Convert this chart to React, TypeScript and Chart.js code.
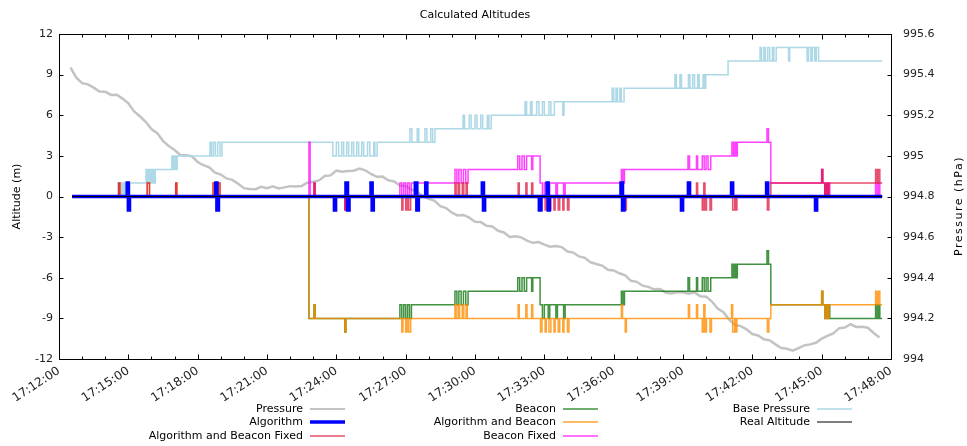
import React, { useEffect, useRef } from 'react';
import { Chart, registerables } from 'chart.js';

Chart.register(...registerables);

type Row = [string, number];

const TITLE = 'Calculated Altitudes';
const LEFT_AXIS_TITLE = 'Altitude (m)';
const RIGHT_AXIS_TITLE = 'Pressure (hPa)';

const TIME_START = '17:12:00';
const TIME_END = '17:48:00';
const TIME_LABEL_STEP_S = 180;
const TIME_MINOR_STEP_S = 60;

const ALTITUDE_MIN = -12;
const ALTITUDE_MAX = 12;
const ALTITUDE_STEP = 3;

const PRESSURE_MIN = 994;
const PRESSURE_MAX = 995.6;
const PRESSURE_STEP = 0.2;

// Barometer readings (hPa), one every 15 s from 17:12:30
const PRESSURE_FIRST_SAMPLE = '17:12:30';
const PRESSURE_INTERVAL_S = 15;
const PRESSURE_HPA = [
  995.434, 995.385, 995.358, 995.352, 995.336, 995.317, 995.316, 995.300, 995.301, 995.282,
  995.259, 995.219, 995.195, 995.168, 995.132, 995.112, 995.074, 995.048, 995.029, 995.004,
  995.003, 994.998, 994.970, 994.954, 994.944, 994.917, 994.908, 994.889, 994.882, 994.863,
  994.841, 994.837, 994.836, 994.848, 994.841, 994.850, 994.840, 994.845, 994.851, 994.849,
  994.852, 994.868, 994.873, 994.879, 994.901, 994.904, 994.928, 994.922, 994.926, 994.927,
  994.938, 994.929, 994.911, 994.897, 994.898, 994.880, 994.874, 994.854, 994.852, 994.833,
  994.824, 994.800, 994.789, 994.779, 994.752, 994.743, 994.720, 994.707, 994.709, 994.696,
  994.676, 994.674, 994.656, 994.652, 994.631, 994.623, 994.601, 994.604, 994.599, 994.583,
  994.572, 994.576, 994.563, 994.553, 994.556, 994.551, 994.529, 994.524, 994.505, 994.498,
  994.476, 994.468, 994.460, 994.439, 994.436, 994.422, 994.412, 994.385, 994.380, 994.361,
  994.355, 994.343, 994.344, 994.327, 994.323, 994.328, 994.329, 994.322, 994.328, 994.309,
  994.307, 994.283, 994.248, 994.230, 994.194, 994.167, 994.162, 994.146, 994.123, 994.116,
  994.097, 994.092, 994.072, 994.054, 994.050, 994.041, 994.054, 994.067, 994.072, 994.080,
  994.100, 994.114, 994.126, 994.151, 994.155, 994.171, 994.158, 994.159, 994.154, 994.128,
  994.106,
];

// Step series: [time the value starts, altitude in m]
const ALGORITHM: Row[] = [
  ['17:12:34', 0],
  ['17:14:57', 1], ['17:15:00', -1], ['17:15:03', 0],
  ['17:18:47', 1], ['17:18:50', -1], ['17:18:54', 0],
  ['17:23:55', -1], ['17:23:58', 0],
  ['17:24:25', 1], ['17:24:29', -1], ['17:24:33', 0],
  ['17:25:30', 1], ['17:25:33', -1], ['17:25:36', 0],
  ['17:27:25', 1], ['17:27:29', -1], ['17:27:33', 0],
  ['17:27:52', 1], ['17:27:55', 0],
  ['17:30:19', 1], ['17:30:22', -1], ['17:30:25', 0],
  ['17:32:47', -1], ['17:32:51', 0],
  ['17:33:07', 1], ['17:33:10', -1], ['17:33:13', 0],
  ['17:36:19', 1], ['17:36:23', -1], ['17:36:27', 0],
  ['17:38:56', -1], ['17:38:59', 0],
  ['17:39:14', 1], ['17:39:17', 0],
  ['17:41:06', 1], ['17:41:09', 0],
  ['17:42:37', 1], ['17:42:40', 0],
  ['17:44:44', -1], ['17:44:47', 0],
  ['17:47:37', 0],
];

const ALGORITHM_BEACON_FIXED: Row[] = [
  ['17:12:34', 0],
  ['17:14:35', 1], ['17:14:38', 0],
  ['17:14:59', -1], ['17:15:02', 0],
  ['17:15:49', 1], ['17:15:55', 0],
  ['17:17:03', 1], ['17:17:06', 0],
  ['17:18:40', 1], ['17:18:49', -1], ['17:18:53', 1], ['17:18:58', 0],
  ['17:23:02', 1], ['17:23:05', 0],
  ['17:24:22', -1], ['17:24:25', 0],
  ['17:26:50', -1], ['17:26:53', 0], ['17:27:00', -1], ['17:27:04', 0], ['17:27:08', -1], ['17:27:13', 0],
  ['17:29:08', 1], ['17:29:11', 0], ['17:29:16', 1], ['17:29:20', 0], ['17:29:27', 1], ['17:29:31', 0], ['17:29:37', 1], ['17:29:40', 0],
  ['17:31:52', 1], ['17:31:55', 0], ['17:32:12', 1], ['17:32:15', 0],
  ['17:32:27', 1], ['17:32:30', 0],
  ['17:32:50', -1], ['17:32:54', 0], ['17:33:02', -1], ['17:33:05', 0], ['17:33:12', -1], ['17:33:17', 0],
  ['17:33:25', -1], ['17:33:28', 0], ['17:33:36', -1], ['17:33:40', 0], ['17:33:48', -1], ['17:33:51', 0],
  ['17:34:00', -1], ['17:34:04', 0],
  ['17:36:20', 1], ['17:36:23', 0], ['17:36:30', -1], ['17:36:33', 0],
  ['17:39:14', 1], ['17:39:17', 0], ['17:39:35', 1], ['17:39:38', 0], ['17:39:50', -1], ['17:39:54', 1],
  ['17:39:57', -1], ['17:40:01', 0], ['17:40:10', -1], ['17:40:14', 0],
  ['17:41:06', 1], ['17:41:09', -1], ['17:41:14', 0], ['17:41:17', -1], ['17:41:20', 0],
  ['17:42:39', -1], ['17:42:43', 0], ['17:42:48', 1],
  ['17:45:00', 2], ['17:45:03', 1], ['17:45:08', 0], ['17:45:12', 1], ['17:45:16', 0], ['17:45:19', 1],
  ['17:47:20', 2], ['17:47:24', 1], ['17:47:27', 2], ['17:47:31', 1],
  ['17:47:37', 1],
];

const BEACON: Row[] = [
  ['17:12:34', 0],
  ['17:22:49', -9],
  ['17:23:02', -8], ['17:23:05', -9],
  ['17:24:22', -10], ['17:24:25', -9],
  ['17:26:45', -8], ['17:26:50', -9], ['17:26:55', -8], ['17:27:00', -9], ['17:27:05', -8], ['17:27:10', -9], ['17:27:15', -8],
  ['17:29:08', -7], ['17:29:13', -8], ['17:29:18', -7], ['17:29:24', -8], ['17:29:30', -7], ['17:29:36', -8], ['17:29:42', -7],
  ['17:31:51', -6], ['17:31:56', -7], ['17:32:02', -6], ['17:32:08', -7], ['17:32:14', -6],
  ['17:32:27', -7], ['17:32:30', -6],
  ['17:32:49', -8], ['17:32:55', -9], ['17:33:00', -8], ['17:33:10', -9], ['17:33:14', -8],
  ['17:33:30', -9], ['17:33:34', -8], ['17:33:50', -9], ['17:33:54', -8],
  ['17:36:20', -7], ['17:36:24', -8], ['17:36:28', -7],
  ['17:39:13', -6], ['17:39:17', -7], ['17:39:35', -6], ['17:39:38', -7], ['17:39:50', -6], ['17:39:55', -7],
  ['17:40:00', -6], ['17:40:05', -7], ['17:40:12', -6],
  ['17:41:07', -5], ['17:41:11', -6], ['17:41:15', -5], ['17:41:18', -6], ['17:41:21', -5],
  ['17:42:38', -4], ['17:42:42', -5], ['17:42:48', -8],
  ['17:45:00', -7], ['17:45:03', -8], ['17:45:08', -9], ['17:45:12', -8], ['17:45:16', -9], ['17:45:19', -8], ['17:45:21', -9],
  ['17:47:20', -8], ['17:47:24', -9], ['17:47:28', -8], ['17:47:31', -9],
  ['17:47:37', -9],
];

const ALGORITHM_BEACON: Row[] = [
  ['17:12:34', 0],
  ['17:14:35', 1], ['17:14:38', 0],
  ['17:14:59', -1], ['17:15:02', 0],
  ['17:15:49', 1], ['17:15:55', 0],
  ['17:17:03', 1], ['17:17:06', 0],
  ['17:18:40', 1], ['17:18:49', -1], ['17:18:53', 1], ['17:18:58', 0],
  ['17:22:49', -9],
  ['17:23:02', -8], ['17:23:05', -9],
  ['17:24:22', -10], ['17:24:25', -9],
  ['17:26:50', -10], ['17:26:53', -9], ['17:27:00', -10], ['17:27:04', -9], ['17:27:08', -10], ['17:27:13', -9],
  ['17:29:08', -8], ['17:29:11', -9], ['17:29:16', -8], ['17:29:20', -9], ['17:29:27', -8], ['17:29:31', -9], ['17:29:37', -8], ['17:29:40', -9],
  ['17:31:52', -8], ['17:31:55', -9], ['17:32:12', -8], ['17:32:15', -9],
  ['17:32:27', -8], ['17:32:30', -9],
  ['17:32:50', -10], ['17:32:54', -9], ['17:33:02', -10], ['17:33:05', -9], ['17:33:12', -10], ['17:33:17', -9],
  ['17:33:25', -10], ['17:33:28', -9], ['17:33:36', -10], ['17:33:40', -9], ['17:33:48', -10], ['17:33:51', -9],
  ['17:34:00', -10], ['17:34:04', -9],
  ['17:36:20', -8], ['17:36:23', -9], ['17:36:30', -10], ['17:36:33', -9],
  ['17:39:14', -8], ['17:39:17', -9], ['17:39:35', -8], ['17:39:38', -9], ['17:39:50', -10], ['17:39:54', -8],
  ['17:39:57', -10], ['17:40:01', -9], ['17:40:10', -10], ['17:40:14', -9],
  ['17:41:06', -8], ['17:41:09', -10], ['17:41:14', -9], ['17:41:17', -10], ['17:41:20', -9],
  ['17:42:39', -10], ['17:42:43', -9], ['17:42:48', -8],
  ['17:45:00', -7], ['17:45:03', -8], ['17:45:08', -9], ['17:45:12', -8], ['17:45:16', -9], ['17:45:19', -8],
  ['17:47:20', -7], ['17:47:24', -8], ['17:47:27', -7], ['17:47:31', -8],
  ['17:47:37', -8],
];

const BEACON_FIXED: Row[] = [
  ['17:12:34', 0],
  ['17:22:49', 4], ['17:22:52', 0],
  ['17:23:02', 1], ['17:23:05', 0],
  ['17:24:22', -1], ['17:24:25', 0],
  ['17:26:45', 1], ['17:26:50', 0], ['17:26:55', 1], ['17:27:00', 0], ['17:27:05', 1], ['17:27:10', 0], ['17:27:15', 1],
  ['17:29:08', 2], ['17:29:13', 1], ['17:29:18', 2], ['17:29:24', 1], ['17:29:30', 2], ['17:29:36', 1], ['17:29:42', 2],
  ['17:31:51', 3], ['17:31:56', 2], ['17:32:02', 3], ['17:32:08', 2], ['17:32:14', 3],
  ['17:32:27', 2], ['17:32:30', 3],
  ['17:32:49', 1], ['17:32:55', 0], ['17:33:00', 1], ['17:33:10', 0], ['17:33:14', 1],
  ['17:33:30', 0], ['17:33:34', 1], ['17:33:50', 0], ['17:33:54', 1],
  ['17:36:20', 2], ['17:36:24', 1], ['17:36:28', 2],
  ['17:39:13', 3], ['17:39:17', 2], ['17:39:35', 3], ['17:39:38', 2], ['17:39:50', 3], ['17:39:55', 2],
  ['17:40:00', 3], ['17:40:05', 2], ['17:40:12', 3],
  ['17:41:07', 4], ['17:41:11', 3], ['17:41:15', 4], ['17:41:18', 3], ['17:41:21', 4],
  ['17:42:38', 5], ['17:42:42', 4], ['17:42:48', 1],
  ['17:45:00', 2], ['17:45:03', 1], ['17:45:08', 0], ['17:45:12', 1], ['17:45:16', 0], ['17:45:19', 1], ['17:45:21', 0],
  ['17:47:20', 1], ['17:47:24', 0], ['17:47:28', 1], ['17:47:31', 0],
  ['17:47:37', 0],
];

const BASE_PRESSURE: Row[] = [
  ['17:12:34', 0],
  ['17:14:33', 1], ['17:14:36', 0], ['17:14:40', 1], ['17:14:44', 0], ['17:14:48', 1], ['17:14:52', 0],
  ['17:14:56', 1], ['17:15:00', 0], ['17:15:04', 1],
  ['17:15:46', 2], ['17:15:50', 1], ['17:15:54', 2], ['17:15:58', 1], ['17:16:02', 2], ['17:16:06', 1], ['17:16:10', 2],
  ['17:16:53', 3], ['17:16:57', 2], ['17:17:01', 3], ['17:17:04', 2], ['17:17:07', 3],
  ['17:18:32', 4], ['17:18:36', 3], ['17:18:41', 4], ['17:18:46', 3], ['17:18:52', 4], ['17:18:58', 3], ['17:19:03', 4],
  ['17:23:51', 3], ['17:24:00', 4], ['17:24:06', 3], ['17:24:14', 4], ['17:24:19', 3], ['17:24:27', 4],
  ['17:24:32', 3], ['17:24:40', 4], ['17:24:45', 3], ['17:24:53', 4], ['17:24:58', 3], ['17:25:06', 4],
  ['17:25:11', 3], ['17:25:21', 4], ['17:25:27', 3], ['17:25:37', 4], ['17:25:40', 3], ['17:25:46', 4],
  ['17:27:11', 5], ['17:27:16', 4], ['17:27:30', 5], ['17:27:34', 4], ['17:27:50', 5], ['17:27:55', 4],
  ['17:28:05', 5], ['17:28:10', 4], ['17:28:16', 5],
  ['17:29:29', 6], ['17:29:33', 5], ['17:29:45', 6], ['17:29:50', 5], ['17:30:00', 6], ['17:30:05', 5],
  ['17:30:15', 6], ['17:30:20', 5], ['17:30:32', 6], ['17:30:36', 5], ['17:30:42', 6],
  ['17:32:10', 7], ['17:32:14', 6], ['17:32:24', 7], ['17:32:28', 6], ['17:32:40', 7], ['17:32:46', 6],
  ['17:32:55', 7], ['17:33:00', 6], ['17:33:12', 7], ['17:33:17', 6], ['17:33:26', 7],
  ['17:33:48', 6], ['17:33:51', 7],
  ['17:35:56', 8], ['17:36:00', 7], ['17:36:06', 8], ['17:36:10', 7], ['17:36:16', 8], ['17:36:20', 7], ['17:36:27', 8],
  ['17:38:39', 9], ['17:38:43', 8], ['17:38:52', 9], ['17:38:56', 8], ['17:39:14', 9], ['17:39:18', 8],
  ['17:39:25', 9], ['17:39:30', 8], ['17:39:38', 9], ['17:39:42', 8], ['17:39:52', 9], ['17:39:56', 8], ['17:39:59', 9],
  ['17:40:57', 10],
  ['17:42:20', 11], ['17:42:24', 10], ['17:42:30', 11], ['17:42:34', 10], ['17:42:40', 11], ['17:42:45', 10],
  ['17:42:52', 11], ['17:42:56', 10], ['17:43:02', 11],
  ['17:43:34', 10], ['17:43:37', 11],
  ['17:44:22', 10], ['17:44:26', 11], ['17:44:32', 10], ['17:44:36', 11], ['17:44:42', 10], ['17:44:46', 11], ['17:44:52', 10],
  ['17:47:37', 10],
];

const REAL_ALTITUDE: Row[] = [
  ['17:12:34', 0],
  ['17:47:37', 0],
];

const FONT = '"DejaVu Sans", Verdana, sans-serif';

const toSeconds = (hms: string) => {
  const [h, m, s] = hms.split(':').map(Number);
  return h * 3600 + m * 60 + s;
};

const formatClock = (sec: number) => {
  const pad = (n: number) => String(Math.floor(n)).padStart(2, '0');
  return `${pad(sec / 3600)}:${pad((sec % 3600) / 60)}:${pad(sec % 60)}`;
};

const toPoints = (rows: Row[]) => rows.map(([t, v]) => ({ x: toSeconds(t), y: v }));

const pressurePoints = () => {
  const t0 = toSeconds(PRESSURE_FIRST_SAMPLE);
  return PRESSURE_HPA.map((p, i) => ({ x: t0 + i * PRESSURE_INTERVAL_S, y: p }));
};

// Legend is laid out in three columns of three rows, read top to bottom
const LEGEND_ORDER = [
  'Pressure', 'Algorithm', 'Algorithm and Beacon Fixed',
  'Beacon', 'Algorithm and Beacon', 'Beacon Fixed',
  'Base Pressure', 'Real Altitude',
];
const LEGEND_TEXT_RIGHT = [303, 556, 810];
const LEGEND_ROW_Y = [408, 421, 435];

const chartDecorations = {
  id: 'chartDecorations',
  afterDraw(chart: any) {
    const { ctx, chartArea: a, scales } = chart;
    const seg = (x1: number, y1: number, x2: number, y2: number) => {
      ctx.beginPath();
      ctx.moveTo(x1, y1);
      ctx.lineTo(x2, y2);
      ctx.stroke();
    };
    ctx.save();
    ctx.strokeStyle = '#000';
    ctx.lineWidth = 1;

    const L = Math.round(a.left) + 0.5;
    const R = Math.round(a.right) + 0.5;
    const T = Math.round(a.top) + 0.5;
    const B = Math.round(a.bottom) + 0.5;
    ctx.strokeRect(L, T, R - L, B - T);

    // minute ticks on top and bottom edges, longer at labelled times
    const xs = scales.x;
    for (let t = xs.min; t <= xs.max; t += TIME_MINOR_STEP_S) {
      const px = Math.round(xs.getPixelForValue(t)) + 0.5;
      const len = (t - xs.min) % TIME_LABEL_STEP_S === 0 ? 5 : 3;
      seg(px, B, px, B - len);
      seg(px, T, px, T + len);
    }
    scales.y.ticks.forEach((tk: any) => {
      const py = Math.round(scales.y.getPixelForValue(tk.value)) + 0.5;
      seg(L, py, L + 4, py);
    });
    scales.y2.ticks.forEach((tk: any) => {
      const py = Math.round(scales.y2.getPixelForValue(tk.value)) + 0.5;
      seg(R - 4, py, R, py);
    });

    ctx.fillStyle = '#000';
    ctx.font = `11px ${FONT}`;
    ctx.textAlign = 'center';
    ctx.textBaseline = 'middle';
    ctx.fillText(TITLE, (a.left + a.right) / 2, 15);

    // axis titles, both read bottom to top
    ctx.save();
    ctx.translate(17, (a.top + a.bottom) / 2);
    ctx.rotate(-Math.PI / 2);
    ctx.fillText(LEFT_AXIS_TITLE, 0, 0);
    ctx.restore();

    ctx.save();
    ctx.translate(959, 206);
    ctx.rotate(-Math.PI / 2);
    (ctx as any).letterSpacing = '1.5px';
    ctx.fillText(RIGHT_AXIS_TITLE, 0, 0);
    ctx.restore();

    // legend
    ctx.textAlign = 'right';
    const byLabel: Record<string, any> = {};
    chart.data.datasets.forEach((d: any) => { byLabel[d.label] = d; });
    LEGEND_ORDER.forEach((label, i) => {
      const col = Math.floor(i / 3);
      const row = i % 3;
      const d = byLabel[label];
      const xr = LEGEND_TEXT_RIGHT[col];
      const y = LEGEND_ROW_Y[row] + 1;
      ctx.fillStyle = '#000';
      ctx.fillText(label, xr, y);
      ctx.strokeStyle = d.borderColor;
      ctx.lineWidth = d.legendWidth;
      seg(xr + 7, y, xr + 42, y);
    });
    ctx.restore();
  },
};

const stepLine = (label: string, rows: Row[], color: string, width: number, order: number) => ({
  label,
  data: toPoints(rows),
  yAxisID: 'y',
  stepped: true,
  borderColor: color,
  borderWidth: width,
  legendWidth: width,
  pointRadius: 0,
  fill: false,
  order,
});

export default function App() {
  const ref = useRef<HTMLCanvasElement | null>(null);

  useEffect(() => {
    if (!ref.current) return;
    const datasets: any[] = [
      {
        label: 'Pressure',
        data: pressurePoints(),
        yAxisID: 'y2',
        borderColor: 'rgba(170,170,170,0.7)',
        borderWidth: 2.5,
        legendWidth: 2,
        pointRadius: 0,
        fill: false,
        order: 8,
      },
      stepLine('Algorithm', ALGORITHM, '#0000FF', 3.5, 2),
      stepLine('Algorithm and Beacon Fixed', ALGORITHM_BEACON_FIXED, 'rgba(220,20,60,0.75)', 1.5, 3),
      stepLine('Beacon', BEACON, 'rgba(0,110,0,0.75)', 1.5, 6),
      stepLine('Algorithm and Beacon', ALGORITHM_BEACON, 'rgba(255,140,0,0.8)', 1.5, 5),
      stepLine('Beacon Fixed', BEACON_FIXED, 'rgba(255,0,255,0.75)', 1.5, 4),
      stepLine('Base Pressure', BASE_PRESSURE, '#ADD8E6', 1.5, 7),
      stepLine('Real Altitude', REAL_ALTITUDE, '#000000', 1, 1),
    ];

    const chart = new Chart(ref.current, {
      type: 'line',
      data: { datasets },
      options: {
        animation: false,
        responsive: false,
        maintainAspectRatio: false,
        devicePixelRatio: 1,
        layout: { padding: { top: 34, left: 0, right: 0, bottom: 0 } },
        font: { family: FONT, size: 11 },
        plugins: {
          legend: { display: false },
          title: { display: false },
          tooltip: { enabled: false },
        },
        elements: { line: { tension: 0 }, point: { radius: 0 } },
        scales: {
          x: {
            type: 'linear',
            min: toSeconds(TIME_START),
            max: toSeconds(TIME_END),
            afterFit: (s: any) => { s.height = 87; },
            grid: { display: false, drawTicks: false },
            border: { display: false },
            ticks: {
              stepSize: TIME_LABEL_STEP_S,
              autoSkip: false,
              minRotation: 33,
              maxRotation: 33,
              padding: 5,
              color: '#222',
              font: { family: FONT, size: 12 },
              callback: (v: any) => formatClock(Number(v)),
            },
          },
          y: {
            position: 'left',
            min: ALTITUDE_MIN,
            max: ALTITUDE_MAX,
            afterFit: (s: any) => { s.width = 59; },
            grid: { display: false, drawTicks: false },
            border: { display: false },
            ticks: {
              stepSize: ALTITUDE_STEP,
              padding: 6,
              color: '#222',
              font: { family: FONT, size: 11 },
            },
          },
          y2: {
            position: 'right',
            min: PRESSURE_MIN,
            max: PRESSURE_MAX,
            afterFit: (s: any) => { s.width = 76; },
            grid: { display: false, drawTicks: false },
            border: { display: false },
            ticks: {
              stepSize: PRESSURE_STEP,
              padding: 12,
              color: '#222',
              font: { family: FONT, size: 11 },
              callback: (v: any) => String(+Number(v).toFixed(1)),
            },
          },
        },
      } as any,
      plugins: [chartDecorations],
    });
    return () => chart.destroy();
  }, []);

  return (
    <div style={{ position: 'fixed', left: 0, top: 0, width: 967, height: 446, background: '#fff' }}>
      <canvas ref={ref} width={967} height={446} style={{ display: 'block' }} />
    </div>
  );
}
